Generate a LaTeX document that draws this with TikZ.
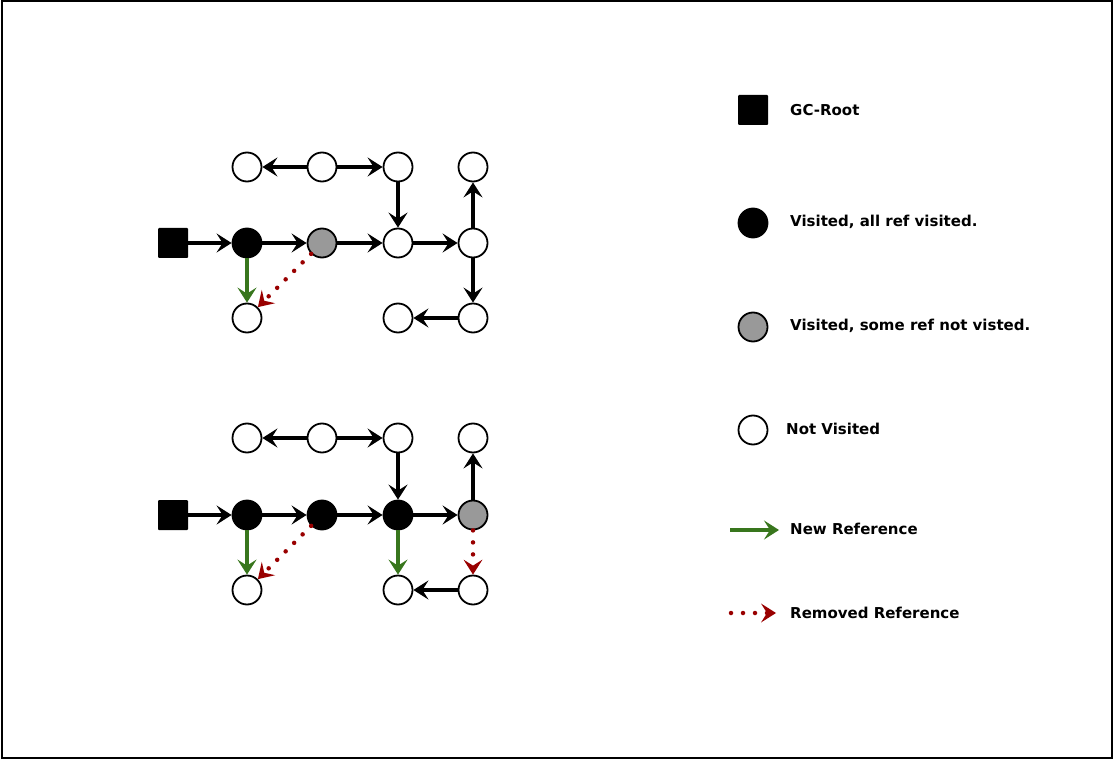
\documentclass[tikz,border=0pt]{standalone}
\usepackage{fontspec}
\setmainfont{DejaVu Sans}
\usetikzlibrary{arrows.meta}
\begin{document}
\begin{tikzpicture}[x=1pt,y=-1pt,
  obj/.style={circle,draw=black,line width=1.8pt,minimum size=29pt,inner sep=0pt},
  wht/.style={obj,fill=white},
  blk/.style={obj,fill=black},
  gry/.style={obj,fill=gray!80},
  root/.style={rectangle,fill=black,minimum size=30pt,inner sep=0pt,rounded corners=1pt},
  ref/.style={line width=4pt,-{Stealth[length=15pt,width=19pt,inset=6pt]}},
  newref/.style={ref,draw={rgb,255:red,56;green,118;blue,29}},
  remref/.style={line width=4.5pt,draw={rgb,255:red,153;green,0;blue,0},line cap=round,dash pattern=on 0pt off 12pt,-{Stealth[length=15pt,width=19pt,inset=6pt,line cap=butt,line width=0pt]}},
  lbl/.style={anchor=west,inner sep=0pt,font=\bfseries\fontsize{15}{17}\selectfont}
]
\useasboundingbox (0,0) rectangle (1113,759);
\draw[line width=2pt] (1.5,1.5) rectangle (1111.5,757.5);

% ---- top graph ----
\node[wht] (a1) at (247,167) {};
\node[wht] (a2) at (322,167) {};
\node[wht] (a3) at (398,167) {};
\node[wht] (a4) at (473,167) {};
\node[root] (ar) at (173,243) {};
\node[blk] (b1) at (247,243) {};
\node[gry] (b2) at (322,243) {};
\node[wht] (b3) at (398,243) {};
\node[wht] (b4) at (473,243) {};
\node[wht] (c1) at (247,318) {};
\node[wht] (c3) at (398,318) {};
\node[wht] (c4) at (473,318) {};
\draw[ref] (a2) -- (a1);
\draw[ref] (a2) -- (a3);
\draw[ref] (a3) -- (b3);
\draw[ref] (ar) -- (b1);
\draw[ref] (b1) -- (b2);
\draw[ref] (b2) -- (b3);
\draw[ref] (b3) -- (b4);
\draw[ref] (b4) -- (a4);
\draw[ref] (b4) -- (c4);
\draw[ref] (c4) -- (c3);
\draw[newref] (b1) -- (c1);
\draw[remref] (b2) -- (c1);

% ---- bottom graph ----
\node[wht] (d1) at (247,438) {};
\node[wht] (d2) at (322,438) {};
\node[wht] (d3) at (398,438) {};
\node[wht] (d4) at (473,438) {};
\node[root] (er) at (173,515) {};
\node[blk] (e1) at (247,515) {};
\node[blk] (e2) at (322,515) {};
\node[blk] (e3) at (398,515) {};
\node[gry] (e4) at (473,515) {};
\node[wht] (f1) at (247,590) {};
\node[wht] (f3) at (398,590) {};
\node[wht] (f4) at (473,590) {};
\draw[ref] (d2) -- (d1);
\draw[ref] (d2) -- (d3);
\draw[ref] (d3) -- (e3);
\draw[ref] (er) -- (e1);
\draw[ref] (e1) -- (e2);
\draw[ref] (e2) -- (e3);
\draw[ref] (e3) -- (e4);
\draw[ref] (e4) -- (d4);
\draw[ref] (f4) -- (f3);
\draw[newref] (e1) -- (f1);
\draw[newref] (e3) -- (f3);
\draw[remref] (e2) -- (f1);
\draw[remref] (e4) -- (f4);

% ---- legend ----
\node[root] (lr) at (753,110) {};
\node[lbl] (tr) at (790,110) {GC-Root};
\node[blk] (lb) at (753,223) {};
\node[lbl] (tb) at (790,222) {Visited, all ref visited.};
\node[gry] (lg) at (753,327) {};
\node[lbl] (tg) at (790,326) {Visited, some ref not visted.};
\node[wht] (lw) at (753,430) {};
\node[lbl] (tw) at (786,429) {Not Visited};
\coordinate (n0) at (730,530);
\coordinate (n1) at (779,530);
\draw[newref] (n0) -- (n1);
\node[lbl] (tn) at (790,529) {New Reference};
\coordinate (r0) at (731,613);
\coordinate (r1) at (776,613);
\draw[remref] (r0) -- (r1);
\node[lbl] (trr) at (790,613) {Removed Reference};
\end{tikzpicture}
\end{document}
